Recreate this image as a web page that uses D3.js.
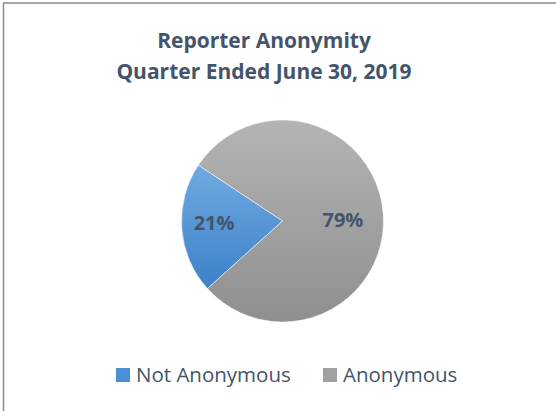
<!DOCTYPE html>
<html>
<head>
<meta charset="utf-8">
<script src="https://cdn.jsdelivr.net/npm/d3@7"></script>
<style>
  body { margin: 0; background: #fff; }
  text { font-family: "Open Sans", sans-serif; }
</style>
</head>
<body>
<div id="chart"></div>
<script>
// data
var categories = ["Not Anonymous", "Anonymous"];
var values = [21, 79];
var labels = ["21%", "79%"];
var titleLines = ["Reporter Anonymity", "Quarter Ended June 30, 2019"];

var width = 556, height = 411;
var cx = 282.5, cy = 221, radius = 101;

var svg = d3.select("#chart")
  .append("svg")
    .attr("width", width)
    .attr("height", height);

// gradients, one per slice, spanning the slice's own box
var defs = svg.append("defs");
var grads = [
  {id: "gBlue", top: "#70aae0", bottom: "#3b81c9"},
  {id: "gGray", top: "#b4b4b4", bottom: "#8f8f8f"}
];
grads.forEach(function(g) {
  var lg = defs.append("linearGradient")
    .attr("id", g.id)
    .attr("x1", 0).attr("y1", 0)
    .attr("x2", 0).attr("y2", 1);
  lg.append("stop").attr("offset", "0%").attr("stop-color", g.top);
  lg.append("stop").attr("offset", "100%").attr("stop-color", g.bottom);
});

var color = d3.scaleOrdinal()
  .domain(categories)
  .range(["url(#gBlue)", "url(#gGray)"]);
var swatch = d3.scaleOrdinal()
  .domain(categories)
  .range(["#4a8fd3", "#a0a0a0"]);

// frame (top and left edges visible)
svg.append("line")
  .attr("x1", 3).attr("y1", 3).attr("x2", width).attr("y2", 3)
  .attr("stroke", "#8c8c8c").attr("stroke-width", 1.5);
svg.append("line")
  .attr("x1", 3.5).attr("y1", 3).attr("x2", 3.5).attr("y2", height)
  .attr("stroke", "#8c8c8c").attr("stroke-width", 1.5);

// title
svg.append("text")
  .attr("text-anchor", "middle")
  .attr("fill", "#44546a")
  .attr("font-weight", "bold")
  .attr("font-size", 21)
  .selectAll("tspan")
  .data(titleLines)
  .enter().append("tspan")
    .attr("x", 264)
    .attr("y", function(d, i) { return 48 + i * 31; })
    .text(function(d) { return d; });

// pie
var start = 228 * Math.PI / 180;
var pie = d3.pie().sort(null)
  .startAngle(start).endAngle(start + 2 * Math.PI)
  .value(function(d) { return d; });
var arc = d3.arc().innerRadius(0).outerRadius(radius);
var labelArc = d3.arc().innerRadius(radius * 0.6).outerRadius(radius * 0.6);
var labelShift = [[-8, -2], [0, 3]];

var g = svg.append("g").attr("transform", "translate(" + cx + "," + cy + ")");
var arcs = pie(values);

g.selectAll("path")
  .data(arcs)
  .enter().append("path")
    .attr("d", arc)
    .attr("fill", function(d, i) { return color(categories[i]); })
    .attr("stroke", "#fff")
    .attr("stroke-width", 0.5);

g.selectAll("text.lbl")
  .data(arcs)
  .enter().append("text")
    .attr("class", "lbl")
    .attr("transform", function(d, i) {
      var c = labelArc.centroid(d);
      return "translate(" + (c[0] + labelShift[i][0]) + "," + (c[1] + labelShift[i][1]) + ")";
    })
    .attr("text-anchor", "middle")
    .attr("dy", "0.35em")
    .attr("fill", "#44546a")
    .attr("font-weight", "bold")
    .attr("font-size", 20)
    .text(function(d, i) { return labels[i]; });

// legend
var legendX = [116, 323];
var leg = svg.selectAll("g.leg")
  .data(categories)
  .enter().append("g")
    .attr("class", "leg")
    .attr("transform", function(d, i) { return "translate(" + legendX[i] + ",368)"; });
leg.append("rect")
  .attr("width", 14).attr("height", 14)
  .attr("fill", function(d) { return swatch(d); });
leg.append("text")
  .attr("x", 20).attr("y", 14)
  .attr("fill", "#44546a")
  .attr("font-size", 20.5)
  .text(function(d) { return d; });
</script>
</body>
</html>
